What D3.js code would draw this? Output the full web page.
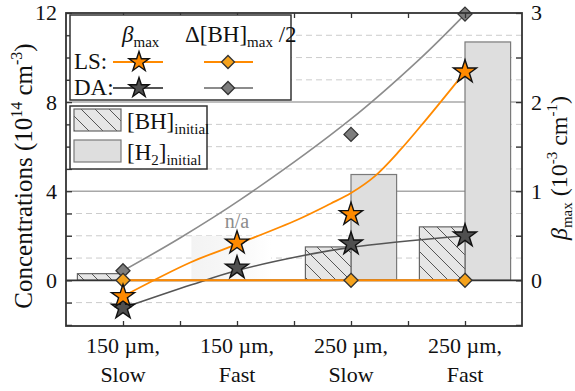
<!DOCTYPE html>
<html>
<head>
<meta charset="UTF-8">
<title>concentrations / beta max</title>
</head>
<body style="margin:0">
<script src="https://d3js.org/d3.v7.min.js"></script>
<script>
var width = 575, height = 391;
var serif = "'Liberation Serif', 'Times New Roman'";

// categories (x index 0..3)
var catLine1 = ["150 \u00b5m,", "150 \u00b5m,", "250 \u00b5m,", "250 \u00b5m,"];
var catLine2 = ["Slow", "Fast", "Slow", "Fast"];

// bars, left axis (10^14 cm^-3); null = not available
var bhInitial = [0.3, null, 1.5, 2.4];
var h2Initial = [0, null, 4.75, 10.7];

// beta_max, right axis (10^-3 cm^-1)
var betaLS = [-0.18, 0.42, 0.74, 2.34];
var betaDA = [-0.31, 0.14, 0.41, 0.50];

// delta[BH]max / 2, left axis
var dbhLS = [0, null, 0, 0];
var dbhDA = [0.43, null, 6.55, 11.95];

// fitted curves
var fitLSx = [0, 0.59, 1.03, 1.53, 1.82, 2.0, 2.21, 2.43, 2.65, 3];
var fitLSy = [-0.18, 0.20, 0.42, 0.68, 0.86, 0.98, 1.17, 1.46, 1.79, 2.34];   // right axis
var fitDAx = [0, 0.6, 1.0, 1.55, 2, 3];
var fitDAy = [-0.31, -0.05, 0.11, 0.27, 0.37, 0.50];                          // right axis
var fitDbhX = [0, 0.5, 1.03, 1.99, 2.6, 3];
var fitDbhY = [0.43, 1.9, 3.62, 7.2, 9.92, 11.94];                            // left axis

var leftTicks = [0, 4, 8, 12];
var rightTicks = [0, 1, 2, 3];

var orange = "#ff8a00", orangeDia = "#f5a21c", darkStar = "#4f4f4f",
    grayDia = "#7d7d7d", grayLine = "#8c8c8c", darkLine = "#555";

var svg = d3.select("body").append("svg")
  .attr("width", width).attr("height", height);

function txt(parent, size) {
  return parent.append("text").attr("font-family", serif)
    .attr("font-size", size).attr("fill", "#111");
}

var x = d3.scaleLinear().domain([-0.5, 3.5]).range([66, 522]);
var yL = d3.scaleLinear().domain([-2.05, 12]).range([326, 13]);
var yR = d3.scaleLinear().domain([-2.05 / 4, 3]).range([326, 13]);

var defs = svg.append("defs");
var pat = defs.append("pattern").attr("id", "hatch")
  .attr("patternUnits", "userSpaceOnUse").attr("width", 14).attr("height", 14);
pat.append("rect").attr("width", 14).attr("height", 14).attr("fill", "#e6e6e6");
pat.append("path").attr("d", "M0,0L14,14M-4,10L4,18M10,-4L18,4")
  .attr("stroke", "#555").attr("stroke-width", 1);

var grad = defs.append("linearGradient").attr("id", "nagrad");
grad.append("stop").attr("offset", "0%").attr("stop-color", "#f3f3f3");
grad.append("stop").attr("offset", "55%").attr("stop-color", "#f8f8f8");
grad.append("stop").attr("offset", "100%").attr("stop-color", "#ffffff");

// gridlines
var grid = svg.append("g");
d3.range(-1, 12).forEach(function(v) {
  if (v === 0) return;
  grid.append("line")
    .attr("x1", x.range()[0]).attr("x2", x.range()[1])
    .attr("y1", yL(v)).attr("y2", yL(v))
    .attr("stroke", v % 4 === 0 ? "#a8a8a8" : "#cccccc")
    .attr("stroke-width", v % 4 === 0 ? 1.5 : 1)
    .attr("stroke-dasharray", v % 4 === 0 ? null : "6,4");
});

// n/a shading
svg.append("rect")
  .attr("x", x(0.6)).attr("y", yL(2))
  .attr("width", x(1.3) - x(0.6)).attr("height", yL(0) - yL(2))
  .attr("fill", "url(#nagrad)");
txt(svg, 20).attr("x", x(1)).attr("y", yL(2.35))
  .attr("text-anchor", "middle").attr("fill", "#8c8c8c")
  .text("n/a");

// bars
h2Initial.forEach(function(d, i) {
  if (!d) return;
  svg.append("rect")
    .attr("x", x(i)).attr("y", yL(d))
    .attr("width", x(0.4) - x(0)).attr("height", yL(0) - yL(d))
    .attr("fill", "#dedede").attr("stroke", "#7a7a7a").attr("stroke-width", 1.2);
});
bhInitial.forEach(function(d, i) {
  if (!d) return;
  svg.append("rect")
    .attr("x", x(i - 0.4)).attr("y", yL(d))
    .attr("width", x(0.4) - x(0)).attr("height", yL(0) - yL(d))
    .attr("fill", "url(#hatch)").attr("stroke", "#666").attr("stroke-width", 1.2);
});

// zero line
svg.append("line").attr("x1", x.range()[0]).attr("x2", x.range()[1])
  .attr("y1", yL(0)).attr("y2", yL(0)).attr("stroke", "#333").attr("stroke-width", 1.6);

// curves
var curve = d3.curveCatmullRom.alpha(0.5);
function fitPath(xs, ys, yScale) {
  return d3.line().curve(curve)
    .x(function(d) { return x(d); })
    .y(function(d, i) { return yScale(ys[i]); })(xs);
}
svg.append("path").attr("d", fitPath(fitDbhX, fitDbhY, yL))
  .attr("fill", "none").attr("stroke", grayLine).attr("stroke-width", 1.6);
svg.append("path").attr("d", fitPath(fitDAx, fitDAy, yR))
  .attr("fill", "none").attr("stroke", darkLine).attr("stroke-width", 1.6);
svg.append("path").attr("d", fitPath(fitLSx, fitLSy, yR))
  .attr("fill", "none").attr("stroke", orange).attr("stroke-width", 1.8);

// LS delta line at zero
var lsPts = dbhLS.map(function(d, i) { return [i, d]; }).filter(function(p) { return p[1] !== null; });
svg.append("path")
  .attr("d", d3.line().x(function(p) { return x(p[0]); }).y(function(p) { return yL(p[1]); })(lsPts))
  .attr("fill", "none").attr("stroke", orange).attr("stroke-width", 2);

function diamond(r) { return "M0," + (-r) + "L" + r + ",0L0," + r + "L" + (-r) + ",0Z"; }
var star = d3.symbol().type(d3.symbolStar);

// markers
function drawDiamonds(arr, fill) {
  arr.forEach(function(d, i) {
    if (d === null) return;
    svg.append("path").attr("d", diamond(7))
      .attr("transform", "translate(" + x(i) + "," + yL(d) + ")")
      .attr("fill", fill).attr("stroke", "#333").attr("stroke-width", 1.3);
  });
}
function drawStars(arr, fill) {
  arr.forEach(function(d, i) {
    svg.append("path").attr("d", star.size(165)())
      .attr("transform", "translate(" + x(i) + "," + yR(d) + ")")
      .attr("fill", fill).attr("stroke", "#111").attr("stroke-width", 1.4);
  });
}
drawDiamonds(dbhDA, grayDia);
drawDiamonds(dbhLS, orangeDia);
drawStars(betaDA, darkStar);
drawStars(betaLS, orange);

// axes (ticks only; labels drawn as texts below)
var axL = svg.append("g").attr("transform", "translate(" + x.range()[0] + ",0)")
  .call(d3.axisLeft(yL).tickValues(d3.range(-2, 13)).tickSize(-6).tickSizeOuter(0).tickFormat(""));
var axR = svg.append("g").attr("transform", "translate(" + x.range()[1] + ",0)")
  .call(d3.axisRight(yR).tickValues(d3.range(-0.5, 3.01, 0.5)).tickSize(-6).tickSizeOuter(0).tickFormat(""));
var axT = svg.append("g").attr("transform", "translate(0," + yL.range()[1] + ")")
  .call(d3.axisTop(x).tickValues(d3.range(0, 3.01, 0.5)).tickSize(-5).tickSizeOuter(0).tickFormat(""));
var axB = svg.append("g").attr("transform", "translate(0," + yL.range()[0] + ")")
  .call(d3.axisBottom(x).tickValues(d3.range(0, 3.01, 0.5)).tickSize(-5).tickSizeOuter(0).tickFormat(""));
[axL, axR, axT, axB].forEach(function(g) {
  g.select(".domain").remove();
  g.selectAll("text").remove();
  g.selectAll("line").attr("stroke", "#333").attr("stroke-width", 1.3);
});

leftTicks.forEach(function(d) {
  txt(svg, 22).attr("x", x.range()[0] - 9).attr("y", yL(d)).attr("dy", "0.34em")
    .attr("text-anchor", "end").text(d);
});
rightTicks.forEach(function(d) {
  txt(svg, 22).attr("x", x.range()[1] + 9).attr("y", yR(d)).attr("dy", "0.34em")
    .text(d);
});

svg.append("rect").attr("x", x.range()[0]).attr("y", yL.range()[1])
  .attr("width", x.range()[1] - x.range()[0]).attr("height", yL.range()[0] - yL.range()[1])
  .attr("fill", "none").attr("stroke", "#333").attr("stroke-width", 1.8);

// category labels
catLine1.forEach(function(c, i) {
  txt(svg, 22).attr("text-anchor", "middle").attr("x", x(i)).attr("y", 353).text(c);
  txt(svg, 22).attr("text-anchor", "middle").attr("x", x(i)).attr("y", 382).text(catLine2[i]);
});

// axis titles
var tl = txt(svg, 25).attr("transform", "translate(32," + 176 + ") rotate(-90)")
  .attr("text-anchor", "middle");
tl.append("tspan").text("Concentrations (10");
tl.append("tspan").attr("font-size", 16).attr("dy", -10).text("14");
tl.append("tspan").attr("dy", 10).text(" cm");
tl.append("tspan").attr("font-size", 16).attr("dy", -10).text("-3");
tl.append("tspan").attr("dy", 10).text(")");

var tr = txt(svg, 24).attr("transform", "translate(567," + 168 + ") rotate(-90)")
  .attr("text-anchor", "middle");
tr.append("tspan").attr("font-style", "italic").text("\u03b2");
tr.append("tspan").attr("font-size", 15).attr("dy", 5).text("max");
tr.append("tspan").attr("dy", -5).text(" (10");
tr.append("tspan").attr("font-size", 15).attr("dy", -10).text("-3");
tr.append("tspan").attr("dy", 10).text(" cm");
tr.append("tspan").attr("font-size", 15).attr("dy", -10).text("-1");
tr.append("tspan").attr("dy", 10).text(")");

// legend 1
var lg = svg.append("g");
lg.append("rect").attr("x", 70).attr("y", 15).attr("width", 221).attr("height", 85)
  .attr("fill", "#fff").attr("stroke", "#333").attr("stroke-width", 1.5);
var h1 = txt(lg, 23).attr("x", 122).attr("y", 42);
h1.append("tspan").attr("font-style", "italic").text("\u03b2");
h1.append("tspan").attr("font-size", 15).attr("dy", 5).text("max");
var h2 = txt(lg, 23).attr("x", 185).attr("y", 42);
h2.append("tspan").text("\u0394[BH]");
h2.append("tspan").attr("font-size", 15).attr("dy", 5).text("max");
h2.append("tspan").attr("dy", -5).text(" /2");
[["LS:", 62, orange, orange, orangeDia, orange], ["DA:", 88, darkLine, darkStar, grayDia, grayLine]].forEach(function(r) {
  txt(lg, 23).attr("x", 74).attr("y", r[1] + 7).text(r[0]);
  lg.append("line").attr("x1", 113).attr("x2", 163).attr("y1", r[1]).attr("y2", r[1])
    .attr("stroke", r[2]).attr("stroke-width", 1.8);
  lg.append("path").attr("d", star.size(125)()).attr("transform", "translate(139," + r[1] + ")")
    .attr("fill", r[3]).attr("stroke", "#111").attr("stroke-width", 1.4);
  lg.append("line").attr("x1", 204).attr("x2", 253).attr("y1", r[1]).attr("y2", r[1])
    .attr("stroke", r[5]).attr("stroke-width", 1.8);
  lg.append("path").attr("d", diamond(6.5)).attr("transform", "translate(228," + r[1] + ")")
    .attr("fill", r[4]).attr("stroke", "#333").attr("stroke-width", 1.3);
});

// legend 2
var lg2 = svg.append("g");
lg2.append("rect").attr("x", 70).attr("y", 106).attr("width", 137).attr("height", 63)
  .attr("fill", "#fff").attr("stroke", "#333").attr("stroke-width", 1.5);
lg2.append("rect").attr("x", 74).attr("y", 109).attr("width", 47).attr("height", 22)
  .attr("fill", "url(#hatch)").attr("stroke", "#666").attr("stroke-width", 1.2);
lg2.append("rect").attr("x", 74).attr("y", 140).attr("width", 47).attr("height", 22)
  .attr("fill", "#dedede").attr("stroke", "#7a7a7a").attr("stroke-width", 1.2);
var l1 = txt(lg2, 23).attr("x", 127).attr("y", 129);
l1.append("tspan").text("[BH]");
l1.append("tspan").attr("font-size", 15).attr("dy", 5).text("initial");
var l2 = txt(lg2, 23).attr("x", 127).attr("y", 160);
l2.append("tspan").text("[H");
l2.append("tspan").attr("font-size", 15).attr("dy", 5).text("2");
l2.append("tspan").attr("dy", -5).text("]");
l2.append("tspan").attr("font-size", 15).attr("dy", 5).text("initial");
</script>
</body>
</html>
